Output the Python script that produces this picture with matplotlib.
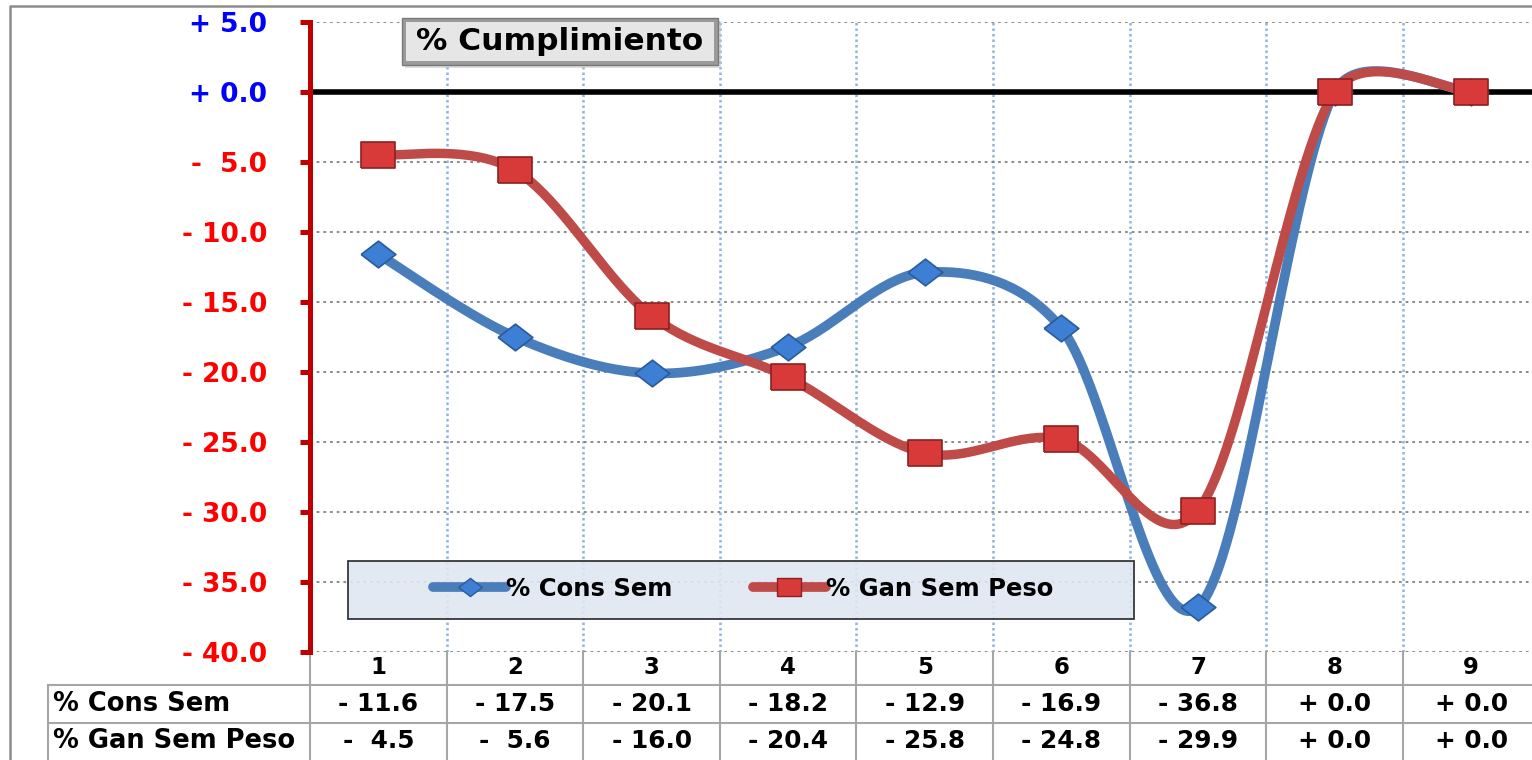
import numpy as np
import matplotlib.pyplot as plt
from matplotlib.patches import Rectangle
from matplotlib.lines import Line2D

categorias = [1, 2, 3, 4, 5, 6, 7, 8, 9]
cons_sem = [-11.6, -17.5, -20.1, -18.2, -12.9, -16.9, -36.8, 0.0, 0.0]
gan_sem_peso = [-4.5, -5.6, -16.0, -20.4, -25.8, -24.8, -29.9, 0.0, 0.0]
serie_nombres = ['% Cons Sem', '% Gan Sem Peso']
titulo = '% Cumplimiento'
y_ticks = list(range(-40, 6, 5))

AZUL = '#4a7ebb'
ROJO = '#be4b48'
W, H = 1532, 760


def fmt(v):
    if v >= 0:
        return f'+ {v:.1f}'
    return f'- {abs(v):4.1f}'


def excel_smooth(xs, ys, sx=100.0, sy=14.0, n=40):
    # bezier smoothing roughly like excel's "smoothed line"
    P = np.column_stack([np.asarray(xs, float) * sx, np.asarray(ys, float) * sy])
    out = []
    t = np.linspace(0, 1, n)[:, None]
    for i in range(len(P) - 1):
        p0 = P[i - 1] if i > 0 else P[i]
        p1, p2 = P[i], P[i + 1]
        p3 = P[i + 2] if i + 2 < len(P) else P[i + 1]
        d12 = np.hypot(*(p2 - p1))
        d02 = np.hypot(*(p2 - p0))
        d13 = np.hypot(*(p3 - p1))
        b1 = p1 + (p2 - p0) / 6 if d02 / 6 < d12 / 2 else p1 + (p2 - p0) * (d12 / 2) / d02
        b2 = p2 - (p3 - p1) / 6 if d13 / 6 < d12 / 2 else p2 - (p3 - p1) * (d12 / 2) / d13
        seg = (1 - t) ** 3 * p1 + 3 * (1 - t) ** 2 * t * b1 + 3 * (1 - t) * t ** 2 * b2 + t ** 3 * p2
        out.append(seg if i == 0 else seg[1:])
    pts = np.vstack(out)
    return pts[:, 0] / sx, pts[:, 1] / sy


rombo = [(-1.3, 0), (0, 1), (1.3, 0), (0, -1), (-1.3, 0)]
cuadro = [(-1.36, -1), (1.36, -1), (1.36, 1), (-1.36, 1), (-1.36, -1)]

fig = plt.figure(figsize=(W / 100, H / 100), dpi=100)
ax = fig.add_axes([310 / W, 108 / H, 1229.6 / W, 630.3 / H])
ax.set_xlim(0.5, 9.5)
ax.set_ylim(-40, 5)

for s in ['top', 'right', 'bottom']:
    ax.spines[s].set_visible(False)
ax.spines['left'].set_color('#c00000')
ax.spines['left'].set_linewidth(3.6)

ax.set_xticks([])
ax.set_yticks(y_ticks)
ax.set_yticklabels([fmt(v) for v in y_ticks])
ax.tick_params(axis='y', length=7, width=3.6, color='#c00000', pad=24, labelsize=19)
for lbl, v in zip(ax.get_yticklabels(), y_ticks):
    lbl.set_fontweight('bold')
    lbl.set_color('#0000ff' if v >= 0 else '#ff0000')

ax.yaxis.grid(True, linestyle=(0, (1.5, 2.2)), color='#808080', linewidth=1.3)
for xb in np.arange(1.5, 9.5, 1.0):
    ax.axvline(xb, color='#8db4e2', linestyle=(0, (1.0, 1.2)), linewidth=1.8, zorder=1.5)
ax.axhline(0, color='black', linewidth=4, zorder=2)

# curves
xs, ys = excel_smooth(categorias, cons_sem)
ax.plot(xs, ys, color=AZUL, linewidth=7, solid_capstyle='round', zorder=3)
ax.plot(categorias, cons_sem, linestyle='none', marker=rombo, markersize=25,
        markerfacecolor='#3d7fd4', markeredgecolor='#2a5b9a', markeredgewidth=1.2, zorder=3.2)
xs, ys = excel_smooth(categorias, gan_sem_peso)
ax.plot(xs, ys, color=ROJO, linewidth=6.8, solid_capstyle='round', zorder=4)
ax.plot(categorias, gan_sem_peso, linestyle='none', marker=cuadro, markersize=24.5,
        markerfacecolor='#d83a3a', markeredgecolor='#8c2020', markeredgewidth=1.2, zorder=4.5)

# legend box + legend
ax.add_patch(Rectangle((348 / W, 1 - 619 / H), (1134 - 348) / W, 58 / H,
                       transform=fig.transFigure, facecolor='#dfe7f1', alpha=0.9,
                       edgecolor='#222222', linewidth=1.3, zorder=1.8, clip_on=False))
handles = [
    Line2D([], [], color=AZUL, linewidth=7, solid_capstyle='round', marker=rombo,
           markersize=17, markerfacecolor='#3d7fd4', markeredgecolor='#2a5b9a'),
    Line2D([], [], color=ROJO, linewidth=7, solid_capstyle='round', marker=cuadro,
           markersize=17, markerfacecolor='#d83a3a', markeredgecolor='#8c2020'),
]
fig.legend(handles, serie_nombres, loc='center', bbox_to_anchor=(743 / W, 1 - 589 / H),
           ncol=2, frameon=False, handlelength=3.0, handletextpad=0.0, columnspacing=3.3,
           prop=dict(weight='bold', size=17.5))

# title box
ax.add_patch(Rectangle((405 / W, 1 - 68 / H), 316 / W, 47 / H, transform=fig.transFigure,
                       facecolor='#c8c8c8', alpha=0.6, edgecolor='none', zorder=5, clip_on=False))
ax.add_patch(Rectangle((402 / W, 1 - 65 / H), 316 / W, 47 / H, transform=fig.transFigure,
                       facecolor='#9a9a9a', edgecolor='#7a7a7a', linewidth=1, zorder=5.1, clip_on=False))
ax.add_patch(Rectangle((406 / W, 1 - 61 / H), 308 / W, 39 / H, transform=fig.transFigure,
                       facecolor='#e6e6e6', edgecolor='none', zorder=5.2, clip_on=False))
fig.text(560 / W, 1 - 42 / H, titulo, ha='center', va='center', fontsize=22.5,
         fontweight='bold', color='black', zorder=6)

# data table under the axis
trans = ax.get_xaxis_transform()


def ypx(p):
    return (652 - p) / 630.3


x_lab = 0.5 + (48 - 310) / 136.6
tabla_gris = '#a6a6a6'
for xb in np.arange(0.5, 10.5, 1.0):
    ax.add_line(Line2D([xb, xb], [0, ypx(760)], transform=trans, color=tabla_gris,
                       linewidth=1.5, clip_on=False))
ax.add_line(Line2D([x_lab, x_lab], [ypx(685), ypx(760)], transform=trans, color=tabla_gris,
                   linewidth=1.5, clip_on=False))
for yr in [685, 723]:
    ax.add_line(Line2D([x_lab, 9.5], [ypx(yr), ypx(yr)], transform=trans, color=tabla_gris,
                       linewidth=1.5, clip_on=False))

for c in categorias:
    ax.text(c, ypx(668), str(c), transform=trans, ha='center', va='center',
            fontsize=16.5, fontweight='bold', clip_on=False)
for fila, (nombre, vals) in zip([704, 741], zip(serie_nombres, [cons_sem, gan_sem_peso])):
    ax.text(x_lab + 0.04, ypx(fila), nombre, transform=trans, ha='left', va='center',
            fontsize=18.5, fontweight='bold', clip_on=False)
    for c, v in zip(categorias, vals):
        ax.text(c, ypx(fila), fmt(v), transform=trans, ha='center', va='center',
                fontsize=17.8, fontweight='bold', clip_on=False)

# outer chart border
fig.add_artist(Line2D([10 / W, 10 / W, 1], [0, 1 - 6 / H, 1 - 6 / H], transform=fig.transFigure,
                      color='#8c8c8c', linewidth=1.8))

fig.savefig('out.png', dpi=100)
